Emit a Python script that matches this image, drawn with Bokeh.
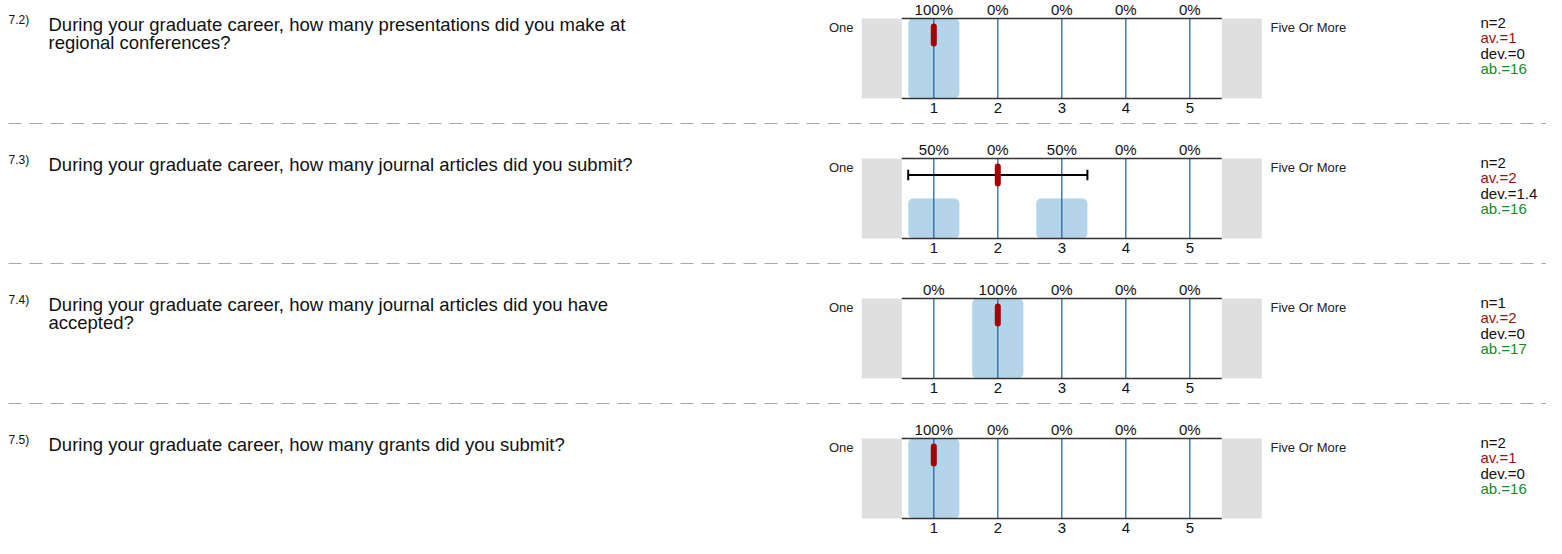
from bokeh.plotting import figure
from bokeh.models import Range1d, ColumnDataSource
from bokeh.core.properties import value
from bokeh.embed import file_html
from bokeh.resources import INLINE

# ---------------- data ----------------
q_nums = ["7.2)", "7.3)", "7.4)", "7.5)"]
questions = [
    "During your graduate career, how many presentations did you make at\nregional conferences?",
    "During your graduate career, how many journal articles did you submit?",
    "During your graduate career, how many journal articles did you have\naccepted?",
    "During your graduate career, how many grants did you submit?",
]
categories = [1, 2, 3, 4, 5]
tick_labels = ["1", "2", "3", "4", "5"]
percents = [
    [100, 0, 0, 0, 0],
    [50, 0, 50, 0, 0],
    [0, 100, 0, 0, 0],
    [100, 0, 0, 0, 0],
]
n_vals = [2, 2, 1, 2]
av_vals = [1, 2, 2, 1]
dev_vals = [0, 1.4, 0, 0]
ab_vals = [16, 16, 17, 16]
left_label = "One"
right_label = "Five Or More"

# ---------------- layout ----------------
W, H = 1546, 538
FONT = value("Liberation Sans")
T0, SPACING = 18, 140
panel_tops = [T0 + i * SPACING for i in range(4)]   # px from top
PH = 80                               # panel height px
PX_PER_PCT = PH / 100.0
V1_PX = 933.3                         # px of value 1
PX_PER_V = 64.0

vstart = 1 - V1_PX / PX_PER_V
p = figure(width=W, height=H, output_backend="svg", toolbar_location=None,
           x_range=Range1d(0, W), y_range=Range1d(H, 0),
           min_border=0, outline_line_color=None, background_fill_color="white",
           border_fill_color="white")
p.axis.visible = False
p.grid.visible = False
p.extra_x_ranges = {"val": Range1d(vstart, vstart + W / PX_PER_V)}
for i, T in enumerate(panel_tops):
    s = -(H - T - PH) / PX_PER_PCT
    p.extra_y_ranges[f"p{i}"] = Range1d(s, s + H / PX_PER_PCT)

def pct_off(px_below_top):
    return 100 - px_below_top / PX_PER_PCT

BLUE_LINE = "#2a64a0"
BAR = "#b4d4ea"
GREY = "#dfdfdf"
RED = "#a80000"

# separators
for T in panel_tops[1:]:
    p.segment(x0=[8], x1=[W], y0=[T - 35], y1=[T - 35], line_color="#a8a8a8",
              line_width=1, line_dash="13 8")

for i, T in enumerate(panel_tops):
    yr = f"p{i}"
    # grey end boxes
    p.quad(left=[-0.125, 5.5], right=[0.5, 6.125], bottom=[0, 0], top=[100, 100],
           fill_color=GREY, line_color=None, x_range_name="val", y_range_name=yr)
    # bars
    src = ColumnDataSource(dict(x=categories, top=percents[i],
                                lab=[f"{v}%" for v in percents[i]], tick=tick_labels))
    p.vbar(x="x", width=0.8, top="top", bottom=0, source=src, fill_color=BAR,
           line_color=None, border_radius=5, x_range_name="val", y_range_name=yr)
    # vertical lines at categories
    p.segment(x0="x", x1="x", y0=0, y1=100, source=src, line_color=BLUE_LINE,
              line_width=1.3, x_range_name="val", y_range_name=yr)
    # frame lines
    p.segment(x0=[0.5, 0.5], x1=[5.5, 5.5], y0=[0, 100], y1=[0, 100],
              line_color="#333333", line_width=1.6, x_range_name="val", y_range_name=yr)
    # percent labels
    p.text(x="x", y=pct_off(-9.5), text="lab", source=src, text_font=FONT,
           text_font_size=value("15px"), text_align="center", text_baseline="middle",
           text_color="#111111", x_range_name="val", y_range_name=yr)
    # tick labels
    p.text(x="x", y=pct_off(PH + 9.5), text="tick", source=src, text_font=FONT,
           text_font_size=value("15px"), text_align="center", text_baseline="middle",
           text_color="#111111", x_range_name="val", y_range_name=yr)
    # error bar (mean +- dev)
    m, d = av_vals[i], dev_vals[i]
    ey = pct_off(16.5)
    p.segment(x0=[m - d], x1=[m + d], y0=[ey], y1=[ey], line_color="black",
              line_width=2, x_range_name="val", y_range_name=yr)
    p.segment(x0=[m - d, m + d], x1=[m - d, m + d], y0=[ey - 6.5, ey - 6.5],
              y1=[ey + 6.5, ey + 6.5], line_color="black", line_width=2,
              x_range_name="val", y_range_name=yr)
    # mean marker
    p.segment(x0=[m], x1=[m], y0=[pct_off(8)], y1=[pct_off(25)], line_color=RED,
              line_width=6, line_cap="round", x_range_name="val", y_range_name=yr)

    # texts (pixel coordinates)
    p.text(x=[8], y=[T + 1], text=[q_nums[i]], text_font=FONT,
           text_font_size=value("12px"), text_baseline="alphabetic", text_color="#111111")
    for k, line in enumerate(questions[i].split("\n")):
        p.text(x=[48], y=[T + 6 + k * 17.5], text=[line], text_font=FONT,
               text_font_size=value("18.5px"), text_baseline="alphabetic",
               text_color="#111111")
    p.text(x=[853], y=[T + 9], text=[left_label], text_font=FONT,
           text_font_size=value("13px"), text_align="right", text_baseline="middle",
           text_color="#222222")
    p.text(x=[1270], y=[T + 9], text=[right_label], text_font=FONT,
           text_font_size=value("13px"), text_align="left", text_baseline="middle",
           text_color="#222222")
    stats = [f"n={n_vals[i]}", f"av.={av_vals[i]:g}", f"dev.={dev_vals[i]:g}",
             f"ab.={ab_vals[i]}"]
    cols = ["#111111", "#9a1010", "#111111", "#1a8a1a"]
    for k in range(4):
        p.text(x=[1480], y=[T + 4 + k * 15.4], text=[stats[k]], text_font=FONT,
               text_font_size=value("15px"), text_baseline="middle",
               text_color=cols[k])

open("out.html", "w").write(file_html(p, INLINE))
